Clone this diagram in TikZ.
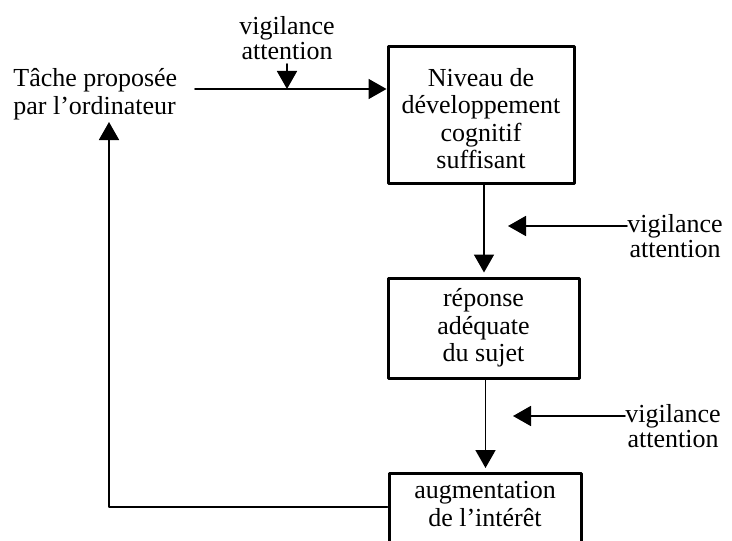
\documentclass[tikz,border=0pt]{standalone}
\usepackage{fontspec}
\setmainfont{Liberation Serif}
\usetikzlibrary{arrows.meta,positioning,calc}

\begin{document}
\begin{tikzpicture}[x=0.5pt,y=-0.5pt,line cap=round,line join=round,
  >={Triangle[width=10pt,length=9pt]},font=\fontsize{13}{13.8}\selectfont]
\tikzset{
  etape/.style={draw,line width=1.5pt,align=center,inner sep=0pt},
  flux/.style={->,line width=0.9pt},
  vigil/.style={align=center,inner sep=0pt,font=\fontsize{13}{12.5}\selectfont}
}
\useasboundingbox (0,0) rectangle (732,540);
% boites
\node[etape,minimum width=93pt,minimum height=68pt,text height=54pt] (niveau) at (481,115) {Niveau de\\développement\\cognitif\\suffisant};
\node[etape,minimum width=95.5pt,minimum height=50pt] (reponse) at (483.5,328) {réponse\\adéquate\\du sujet};
\node[etape,anchor=north,minimum width=96pt,inner ysep=4pt,text depth=30pt] (interet) at (485,472) {augmentation\\de l’intérêt};
% textes
\node[anchor=west,align=left,inner sep=0pt] (tache) at (13,94) {Tâche proposée\\par l’ordinateur};
\node[vigil] (vighaut) at (287,38) {vigilance\\attention};
\node[vigil,anchor=west] (vig1) at (627,236) {vigilance\\attention};
\node[vigil,anchor=west] (vig2) at (625,426) {vigilance\\attention};
% fleches
\coordinate (entree) at (195,89);
\draw[flux] (entree) -- (entree -| niveau.west);
\draw[flux] ([yshift=-2pt]vighaut.south) -- (vighaut.south |- entree);
\draw[flux,shorten >=2pt] ([xshift=1.5pt]niveau.south) -- ([xshift=1.5pt]niveau.south |- reponse.north);
\draw[flux,shorten >=2pt] ([xshift=1pt]reponse.south) -- ([xshift=1pt]reponse.south |- interet.north);
\draw[flux] ([yshift=5pt]vig1.west) -- ++(-119,0);
\draw[flux] ([yshift=5pt]vig2.west) -- ++(-112,0);
\coordinate (retour) at (109,507);
\draw[flux,shorten >=1pt] (interet.west |- retour) -- (retour) -- (retour |- tache.south);
\end{tikzpicture}
\end{document}
